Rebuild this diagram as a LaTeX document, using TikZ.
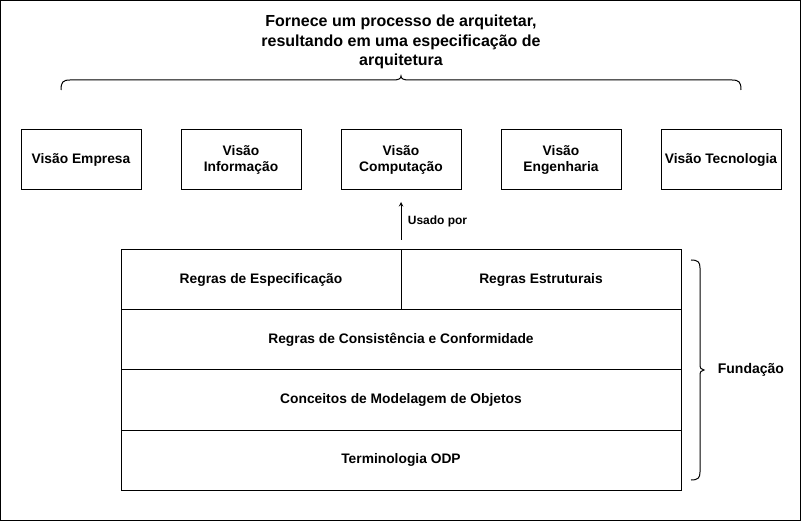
\documentclass[tikz,border=0pt]{standalone}
\usepackage{fontspec}
\setmainfont{Liberation Sans}
\usepackage{tikz}
\usetikzlibrary{arrows, positioning}

\begin{document}
\begin{tikzpicture}[
    x=1pt, y=-1pt,
    line width=1pt,
    node distance=40pt,
    view/.style={draw, outer sep=0pt, minimum width=120pt, minimum height=60pt, align=center, font=\fontsize{13.8}{16}\selectfont\bfseries},
    layer/.style={draw, outer sep=0pt, minimum width=560pt, minimum height=60pt, align=center, font=\fontsize{13.8}{16}\selectfont\bfseries},
    half/.style={layer, minimum width=280pt},
    arrow/.style={->, >=stealth}
]
    \useasboundingbox (0,0) rectangle (801,521);
    \draw (0.5,0.5) rectangle (800.5,520.5);

    % titulo e chave superior
    \node[align=center, font=\fontsize{16}{19.5}\selectfont\bfseries] (title) at (401,42)
        {Fornece um processo de arquitetar,\\resultando em uma especificação de\\arquitetura};
    \draw (61,90) .. controls (61,82) and (63,80) .. (70,80) -- (393,80)
        .. controls (398,80) and (401,79) .. (401,76)
        .. controls (401,79) and (404,80) .. (409,80) -- (732,80)
        .. controls (739,80) and (741,82) .. (741,90);

    % visoes
    \node[view] (emp) at (81,160) {Visão Empresa};
    \node[view, right=of emp] (info) {Visão\\Informação};
    \node[view, right=of info] (comp) {Visão\\Computação};
    \node[view, right=of comp] (eng) {Visão\\Engenharia};
    \node[view, right=of eng] (tec) {Visão Tecnologia};

    % fundacao
    \node[layer] (term) at (401,460) {Terminologia ODP};
    \node[layer, above=0pt of term] (conc) {Conceitos de Modelagem de Objetos};
    \node[layer, above=0pt of conc] (cons) {Regras de Consistência e Conformidade};
    \node[half, anchor=south west] (spec) at (cons.north west) {Regras de Especificação};
    \node[half, right=0pt of spec] (estr) {Regras Estruturais};

    \draw[arrow] ([yshift=10pt]spec.north east) -- node[right, xshift=3pt, font=\fontsize{12}{14}\selectfont\bfseries] {Usado por} ([yshift=-12pt]comp.south);

    % chave lateral
    \draw (691,260) .. controls (698,260) and (700,262) .. (700,268) -- (700,364)
        .. controls (700,368) and (701,370) .. (704,370)
        .. controls (701,370) and (700,372) .. (700,376) -- (700,472)
        .. controls (700,478) and (698,480) .. (691,480);
    \node[anchor=west, font=\fontsize{14}{16}\selectfont\bfseries] (fund) at (714,370) {Fundação};
\end{tikzpicture}
\end{document}
